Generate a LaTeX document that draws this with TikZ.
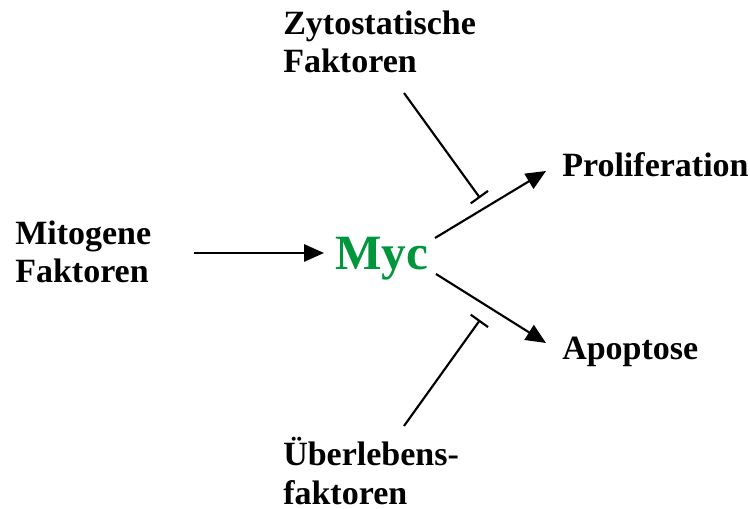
\documentclass[tikz,border=0pt]{standalone}
\usepackage{fontspec}
\setmainfont{Liberation Serif}
\usetikzlibrary{arrows.meta}
\definecolor{mycgreen}{RGB}{0,150,60}
\begin{document}
\begin{tikzpicture}[x=0.75pt,y=-0.75pt,
  lbl/.style={anchor=base west,inner sep=0pt,align=left,font=\fontsize{25.5pt}{28.5pt}\selectfont\bfseries},
  act/.style={line width=1.6pt,-{Triangle[length=15pt,width=13pt]}},
  inh/.style={line width=1.6pt,-{Bar[width=16pt,line width=1.6pt]}}]
\useasboundingbox (0,0) rectangle (750,509);
\node[lbl] (zyto) at (283,73) {Zytostatische\\Faktoren};
\node[lbl] (mito) at (15,283) {Mitogene\\Faktoren};
\node[lbl,text depth=0pt] (ueber) at (283,504) {Überlebens-\\faktoren};
\node[lbl] (prol) at (562,177) {Proliferation};
\node[lbl] (apop) at (562,360) {Apoptose};
\node[anchor=base west,inner sep=0pt,text=mycgreen,font=\fontsize{37pt}{40pt}\selectfont\bfseries] (myc) at (335,270) {Myc};
\coordinate (mitoOut) at (194,253);
\coordinate (mycIn) at (324,253);
\coordinate (mycUp) at (435,238);
\coordinate (prolIn) at (546,171);
\coordinate (mycDown) at (436,274);
\coordinate (apopIn) at (546,343);
\coordinate (zytoOut) at (404,93);
\coordinate (zytoBar) at (480,198);
\coordinate (ueberOut) at (404,426);
\coordinate (ueberBar) at (480,320);
\draw[act] (mitoOut) -- (mycIn);
\draw[act] (mycUp) -- (prolIn);
\draw[act] (mycDown) -- (apopIn);
\draw[inh] (zytoOut) -- (zytoBar);
\draw[inh] (ueberOut) -- (ueberBar);
\end{tikzpicture}
\end{document}
